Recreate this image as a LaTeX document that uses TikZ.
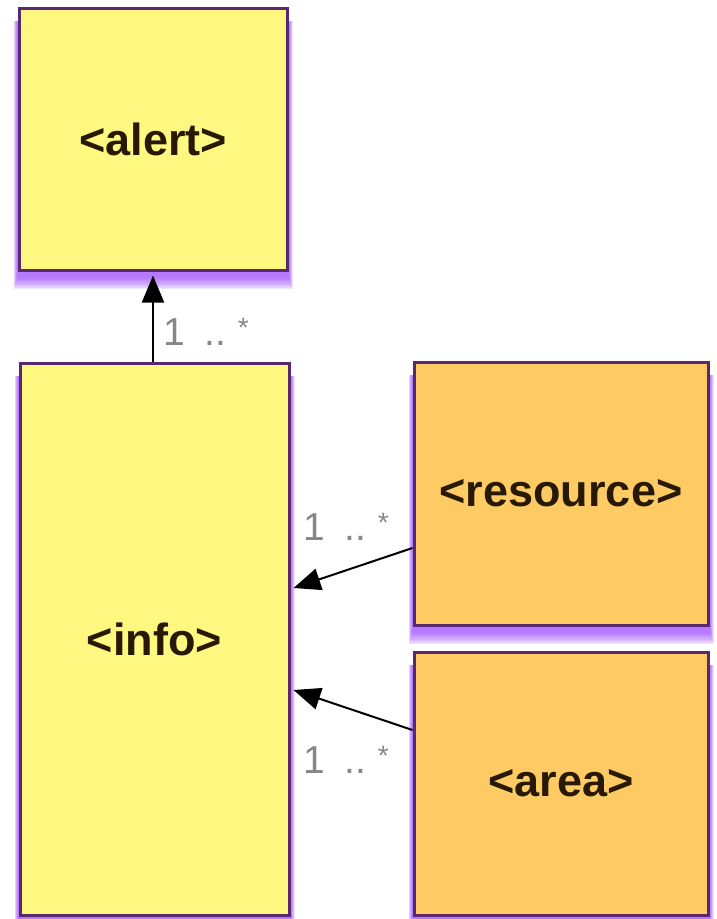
\documentclass[tikz,border=0pt]{standalone}
\usepackage{fontspec}
\setmainfont{Liberation Sans}
\usetikzlibrary{arrows.meta,backgrounds,calc}
\definecolor{boxyellow}{RGB}{255,248,128}
\definecolor{boxorange}{RGB}{253,202,99}
\definecolor{boxborder}{RGB}{90,40,110}
\definecolor{glowc}{RGB}{145,50,255}
\definecolor{labgray}{RGB}{135,135,135}
\definecolor{boxtext}{RGB}{40,25,5}
\tikzset{
  classbox/.style={draw=boxborder, line width=3pt, inner sep=0pt,
    font=\fontsize{45}{50}\selectfont\bfseries, text=boxtext},
  yellowbox/.style={classbox, fill=boxyellow},
  orangebox/.style={classbox, fill=boxorange},
  mult/.style={font=\fontsize{39}{44}\selectfont, text=labgray, inner sep=0pt, anchor=base west},
  conn/.style={line width=2pt, black, -{Triangle[length=27pt,width=22pt]}},
}
\newcommand\glowbox[1]{%
  \foreach \k in {1,...,8}{%
    \fill[glowc, opacity=0.12]
      ([shift={(-0.5*\k pt,-5pt-1.6*\k pt)}]#1.south west)
      rectangle ([shift={(0.5*\k pt,-14pt)}]#1.north east);
  }%
}
\newcommand\multstar{\raisebox{8pt}{\fontsize{28}{30}\selectfont *}}
\newcommand\multtext{1\hspace{0.5em}..\hspace{0.3em}\multstar}
\begin{document}
\begin{tikzpicture}[x=1pt,y=-1pt]
  \useasboundingbox (0,0) rectangle (717,919);

  \node[yellowbox, minimum width=268pt, minimum height=262pt] (alert) at (153,139) {<alert>};
  \node[yellowbox, minimum width=269pt, minimum height=552pt] (info) at (154.5,639) {<info>};
  \node[orangebox, minimum width=294pt, minimum height=263pt] (resource) at (561,493.5) {<resource>};
  \node[orangebox, minimum width=294pt, minimum height=263pt] (area) at (561,783.5) {<area>};

  \begin{scope}[on background layer]
    \fill[white] (0,0) rectangle (717,919);
    \glowbox{alert}
    \glowbox{info}
    \glowbox{resource}
    \glowbox{area}
  \end{scope}

  \coordinate (rs) at ([yshift=-54.5pt]resource.west);
  \coordinate (ri) at ([xshift=3pt,yshift=51pt]info.east);
  \coordinate (as) at ([yshift=53.5pt]area.west);
  \coordinate (ai) at ([xshift=3pt,yshift=-51pt]info.east);

  \draw[conn, shorten >=4pt] ([xshift=-1.5pt]info.north) -- (alert.south);
  \draw[conn] (rs) -- (ri);
  \draw[conn] (as) -- (ai);

  \node[mult] (m1) at (163,345) {\multtext};
  \node[mult] (m2) at (303,540) {\multtext};
  \node[mult] (m3) at (303,773) {\multtext};
\end{tikzpicture}
\end{document}
